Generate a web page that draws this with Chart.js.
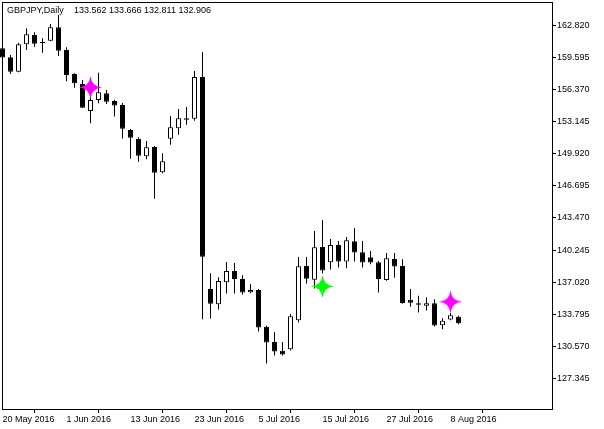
<!DOCTYPE html>
<html>
<head>
<meta charset="utf-8">
<script src="https://cdn.jsdelivr.net/npm/chart.js@4/dist/chart.umd.min.js"></script>
<style>
html,body{margin:0;padding:0;background:#fff;}
canvas{display:block;}
</style>
</head>
<body>
<canvas id="c" width="604" height="429"></canvas>
<script>
// ---- data ----
const symbolTitle = 'GBPJPY,Daily';

const dates = [
  '20 May 2016','23 May 2016','24 May 2016','25 May 2016','26 May 2016','27 May 2016','30 May 2016','31 May 2016',
  '1 Jun 2016','2 Jun 2016','3 Jun 2016','6 Jun 2016','7 Jun 2016','8 Jun 2016','9 Jun 2016','10 Jun 2016',
  '13 Jun 2016','14 Jun 2016','15 Jun 2016','16 Jun 2016','17 Jun 2016','20 Jun 2016','21 Jun 2016','22 Jun 2016',
  '23 Jun 2016','24 Jun 2016','27 Jun 2016','28 Jun 2016','29 Jun 2016','30 Jun 2016','1 Jul 2016','4 Jul 2016',
  '5 Jul 2016','6 Jul 2016','7 Jul 2016','8 Jul 2016','11 Jul 2016','12 Jul 2016','13 Jul 2016','14 Jul 2016',
  '15 Jul 2016','18 Jul 2016','19 Jul 2016','20 Jul 2016','21 Jul 2016','22 Jul 2016','25 Jul 2016','26 Jul 2016',
  '27 Jul 2016','28 Jul 2016','29 Jul 2016','1 Aug 2016','2 Aug 2016','3 Aug 2016','4 Aug 2016','5 Aug 2016',
  '8 Aug 2016','9 Aug 2016'
];

const openP = [
  160.51,159.61,158.16,160.91,161.85,161.14,161.27,162.62,
  160.34,157.93,156.93,154.22,155.32,155.99,155.22,154.82,
  152.31,151.41,149.67,150.60,148.06,151.44,152.48,153.49,
  153.44,157.63,136.35,134.81,137.02,138.16,137.35,136.02,
  136.25,132.54,131.03,130.13,130.30,133.21,138.66,137.28,
  140.57,139.03,140.77,139.11,141.14,140.02,139.53,139.03,
  137.25,139.36,138.66,135.25,134.91,134.67,134.91,132.71,
  133.27,133.562
];
const highP = [
  160.55,159.84,161.07,162.52,162.12,161.52,162.95,163.85,
  160.61,158.00,157.33,155.72,158.06,156.33,155.34,155.02,
  152.41,151.58,151.21,150.70,149.97,153.72,154.42,154.62,
  158.23,160.14,137.93,137.52,139.06,138.96,137.73,136.85,
  136.35,132.64,132.03,131.03,133.84,139.56,139.56,142.17,
  143.28,141.37,141.17,141.55,142.47,141.17,140.16,139.16,
  139.96,139.96,139.33,136.35,135.65,135.52,135.32,133.41,
  133.94,133.666
];
const lowP = [
  159.55,157.93,158.10,160.34,160.64,160.07,161.21,159.74,
  157.20,156.56,154.52,152.98,154.99,154.92,153.65,151.46,
  149.43,149.13,149.37,145.41,147.96,150.83,151.84,152.84,
  153.24,133.31,133.37,134.29,135.88,135.88,135.78,135.92,
  132.06,128.85,129.65,129.65,130.16,132.97,136.88,136.38,
  137.90,138.29,138.49,138.43,139.09,138.49,138.83,135.98,
  137.18,137.48,134.87,134.57,133.97,134.17,132.57,132.30,
  133.21,132.811
];
const closeP = [
  159.59,158.16,160.91,161.92,160.97,161.01,162.62,160.27,
  157.83,157.00,154.55,155.32,156.09,155.15,154.77,152.44,
  151.54,149.73,150.57,148.02,149.17,152.58,153.49,153.34,
  157.63,139.59,134.87,137.15,138.16,137.35,135.98,136.25,
  132.47,130.96,130.06,129.76,133.61,138.63,137.38,140.54,
  138.19,140.77,139.09,141.24,140.01,139.01,138.99,137.35,
  139.43,138.59,134.94,134.97,134.77,134.91,132.67,133.14,
  133.71,132.906
];

// arrow signals of the indicator
const sellSignalIdx = [11, 56];
const sellSignalPrice = [156.58, 135.05];
const buySignalIdx = [40];
const buySignalPrice = [136.60];

// axis ticks
const yTickValues = [162.820,159.595,156.370,153.145,149.920,146.695,143.470,140.245,137.020,133.795,130.570,127.345];
const xLabelEvery = 8;

// ---- drawing ----
const FONT = '"Liberation Sans", Arial, sans-serif';

function makeStar(color) {
  const s = 25, c = document.createElement('canvas');
  c.width = s; c.height = s;
  const g = c.getContext('2d');
  const m = s / 2, r = 11.5, k = 1.0;
  g.fillStyle = color;
  g.beginPath();
  g.moveTo(m, m - r);
  g.quadraticCurveTo(m + k, m - k, m + r, m);
  g.quadraticCurveTo(m + k, m + k, m, m + r);
  g.quadraticCurveTo(m - k, m + k, m - r, m);
  g.quadraticCurveTo(m - k, m - k, m, m - r);
  g.closePath();
  g.fill();
  return c;
}

const n = dates.length;
const bodies = dates.map((d, i) => ({x: i, y: [openP[i], closeP[i]]}));
const wicks = dates.map((d, i) => ({x: i, y: [lowP[i], highP[i]]}));
const sellPts = sellSignalIdx.map((v, i) => ({x: v, y: sellSignalPrice[i]}));
const buyPts = buySignalIdx.map((v, i) => ({x: v, y: buySignalPrice[i]}));

const framePlugin = {
  id: 'frame',
  beforeDraw(chart) {
    const c = chart.ctx;
    c.save();
    c.fillStyle = '#fff';
    c.fillRect(0, 0, chart.width, chart.height);
    c.restore();
  },
  beforeDatasetsDraw(chart) {
    const c = chart.ctx, a = chart.chartArea;
    c.save();
    c.strokeStyle = '#000';
    c.lineWidth = 1;
    c.strokeRect(a.left + 0.5, a.top + 0.5, a.right - a.left, a.bottom - a.top);
    c.restore();
  },
  afterDraw(chart) {
    const c = chart.ctx;
    const last = n - 1;
    c.save();
    c.fillStyle = '#000';
    c.font = '9px ' + FONT;
    c.textBaseline = 'alphabetic';
    c.fillText(symbolTitle, 7, 13);
    c.fillText([openP[last], highP[last], lowP[last], closeP[last]].map(v => v.toFixed(3)).join(' '), 74, 13);
    c.restore();
  }
};

new Chart(document.getElementById('c'), {
  type: 'bar',
  data: {
    datasets: [
      {type: 'scatter', label: 'Sell', data: sellPts, pointStyle: makeStar('#ff00ff'), pointRadius: 11, order: 0, clip: false},
      {type: 'scatter', label: 'Buy', data: buyPts, pointStyle: makeStar('#00ff00'), pointRadius: 11, order: 1, clip: false},
      {
        label: 'Body', data: bodies, order: 2, grouped: false, barThickness: 5, inflateAmount: 0,
        backgroundColor: (ctx) => (closeP[ctx.dataIndex] >= openP[ctx.dataIndex] ? '#ffffff' : '#000000'),
        borderColor: '#000', borderWidth: 1, borderSkipped: false, clip: false
      },
      {
        label: 'Wick', data: wicks, order: 3, grouped: false, barThickness: 1, inflateAmount: 0,
        backgroundColor: '#000', borderWidth: 0, clip: false
      }
    ]
  },
  options: {
    responsive: false,
    devicePixelRatio: 1,
    animation: false,
    events: [],
    layout: {autoPadding: false, padding: {left: 2, top: 2, right: 0, bottom: 0}},
    plugins: {legend: {display: false}, tooltip: {enabled: false}},
    scales: {
      x: {
        type: 'linear', position: 'bottom', offset: false,
        min: -0.0625, max: 68.6875,
        afterBuildTicks: (s) => { s.ticks = dates.map((d, i) => i).filter(i => i % xLabelEvery === 0).map(v => ({value: v})); },
        afterFit: (s) => { s.height = 20; s.paddingLeft = 0; s.paddingRight = 0; s.paddingTop = 0; s.paddingBottom = 0; },
        ticks: {
          callback: (v) => dates[v], align: 'start', maxRotation: 0, minRotation: 0, autoSkip: false,
          padding: 1, color: '#000', font: {family: FONT, size: 9}
        },
        grid: {drawOnChartArea: false, drawTicks: true, tickLength: 4, color: '#000', lineWidth: 1},
        border: {display: false}
      },
      y: {
        type: 'linear', position: 'right',
        min: 124.29, max: 165.16,
        afterBuildTicks: (s) => { s.ticks = yTickValues.map(v => ({value: v})); },
        afterFit: (s) => { s.width = 52; s.paddingLeft = 0; s.paddingRight = 0; s.paddingTop = 0; s.paddingBottom = 0; },
        ticks: {
          callback: (v) => Number(v).toFixed(3), padding: 1, color: '#000', font: {family: FONT, size: 9}
        },
        grid: {drawOnChartArea: false, drawTicks: true, tickLength: 4, color: '#000', lineWidth: 1},
        border: {display: false}
      }
    }
  },
  plugins: [framePlugin]
});
</script>
</body>
</html>
